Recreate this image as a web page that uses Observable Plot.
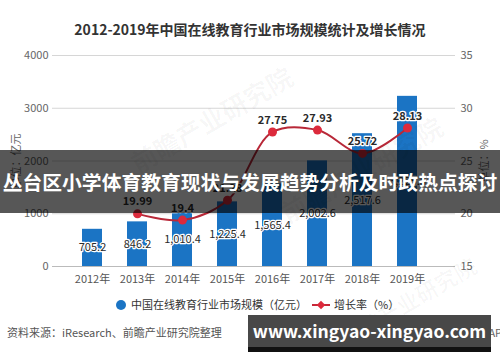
<!DOCTYPE html>
<html><head><meta charset="utf-8">
<script src="https://cdn.jsdelivr.net/npm/d3@7"></script>
<script src="https://cdn.jsdelivr.net/npm/@observablehq/plot@0.6"></script>
<style>
body{margin:0;background:#fff;}
#wrap{position:relative;width:500px;height:362px;overflow:hidden;font-family:"Noto Sans CJK SC","Noto Sans",sans-serif;}
#chart{position:absolute;left:0;top:0;}
.abs{position:absolute;white-space:nowrap;}
</style></head>
<body><div id="wrap"><div id="chart"></div></div>
<script>
const years = ["2012","2013","2014","2015","2016","2017","2018","2019"];
const marketSize = [705.2, 846.2, 1010.4, 1225.4, 1565.4, 2002.6, 2517.6, 3225.8];
const growthRate = [null, 19.99, 19.4, 21.28, 27.75, 27.93, 25.72, 28.13];
const leftTicks = [0, 1000, 2000, 3000, 4000];
const rightTicks = [15, 20, 25, 30, 35];
const titleText = "2012-2019年中国在线教育行业市场规模统计及增长情况";
const bannerText = "丛台区小学体育教育现状与发展趋势分析及时政热点探讨";
const legendBar = "中国在线教育行业市场规模（亿元）";
const legendLine = "增长率（%）";
const sourceText = "资料来源：iResearch、前瞻产业研究院整理";
const siteText = "www.xingyao-xingyao.com";

// right axis maps 15..35 onto left 0..4000
const toLeft = v => (v - 15) * 200;
const bars = years.map((y, i) => ({year: y, value: marketSize[i]}));
const line = years.map((y, i) => ({year: y, rate: growthRate[i]})).filter(d => d.rate != null);
const fmt = d3.format(",.1f");
const font = '"Noto Sans CJK SC","Noto Sans",sans-serif';

const plot = Plot.plot({
  width: 500, height: 362,
  marginTop: 55, marginBottom: 96, marginLeft: 52, marginRight: 45,
  style: {fontFamily: font, fontSize: "11px", color: "#555", background: "transparent"},
  x: {type: "band", domain: years, padding: 0.55, insetLeft: 4, insetRight: 11},
  y: {domain: [0, 4000]},
  marks: [
    Plot.gridY(leftTicks, {stroke: "#d6d6d6", strokeOpacity: 1}),
    Plot.ruleY([0], {stroke: "#bbb"}),
    Plot.barY(bars, {x: "year", y: "value", fill: "#1b74c4"}),
    Plot.text(bars, {x: "year", y: d => d.value / 2, text: d => fmt(d.value), fill: "#2a2a2a", stroke: "white", strokeWidth: 2.5, fontSize: 11}),
    Plot.line(line, {x: "year", y: d => toLeft(d.rate), stroke: "#b82838", strokeWidth: 2, curve: "catmull-rom"}),
    Plot.dot(line, {x: "year", y: d => toLeft(d.rate), r: 4.5, fill: "#dc2a3c"}),
    Plot.text(line, {x: "year", y: d => toLeft(d.rate), dy: -12, text: d => String(d.rate), fill: "#2a2a2a", stroke: "white", strokeWidth: 2.5, fontSize: 11, fontWeight: "bold"}),
    Plot.axisY(leftTicks, {anchor: "left", tickSize: 0, tickPadding: 4, fill: "#666", tickFormat: d => String(d), label: "单位：亿元", labelAnchor: "center", labelOffset: 40, labelArrow: "none"}),
    Plot.axisY(leftTicks, {anchor: "right", tickSize: 0, tickPadding: 5, fill: "#666", tickFormat: d => String(15 + d / 200), label: "单位：%", labelAnchor: "center", labelOffset: 32, labelArrow: "none"}),
    Plot.axisX({tickSize: 0, tickPadding: 9, fill: "#555", tickFormat: d => d + "年", label: null})
  ]
});
document.getElementById("chart").appendChild(plot);

const wrap = document.getElementById("wrap");
function add(html, css) {
  const d = document.createElement("div");
  d.className = "abs";
  d.innerHTML = html;
  Object.assign(d.style, css);
  wrap.appendChild(d);
  return d;
}
// watermarks
add("前瞻产业研究院", {left: "120px", top: "100px", fontSize: "26px", fontWeight: "bold", color: "rgba(0,0,0,0.035)", transform: "rotate(-30deg)"});
add("前瞻产业研究院", {left: "270px", top: "150px", fontSize: "26px", fontWeight: "bold", color: "rgba(0,0,0,0.035)", transform: "rotate(-30deg)"});
add("前瞻产业研究院", {left: "330px", top: "285px", fontSize: "22px", fontWeight: "bold", color: "rgba(0,0,0,0.03)", transform: "rotate(-30deg)"});

add(titleText, {left: "0", width: "500px", top: "19px", textAlign: "center", fontSize: "14px", fontWeight: "bold", color: "#333"});

// banner
add(bannerText, {left: "0", width: "500px", top: "150px", height: "63px", lineHeight: "63px", textAlign: "center", fontSize: "19.8px", fontWeight: "bold", color: "#fff", background: "rgba(0,0,0,0.66)"});

// legend
add("", {left: "116px", top: "300px", width: "10px", height: "10px", borderRadius: "50%", background: "#1b74c4"});
add(legendBar, {left: "131px", top: "296px", fontSize: "11px", color: "#333"});
add("", {left: "312px", top: "304px", width: "18px", height: "2px", background: "#c82838"});
add("", {left: "318px", top: "302px", width: "6px", height: "6px", background: "#dc2a3c", transform: "rotate(45deg)"});
add(legendLine, {left: "334px", top: "296px", fontSize: "11px", color: "#333"});

// footer
add(sourceText, {left: "7px", top: "324px", fontSize: "11px", color: "#555"});
add("@前瞻经济学人APP", {left: "412px", top: "324px", fontSize: "11px", color: "#666"});
add(siteText, {left: "248px", top: "315px", width: "243px", height: "32px", lineHeight: "32px", textAlign: "center", fontSize: "17.5px", fontWeight: "bold", color: "#fff", background: "#484848", borderBottom: "5px solid #111"});
</script></body></html>
